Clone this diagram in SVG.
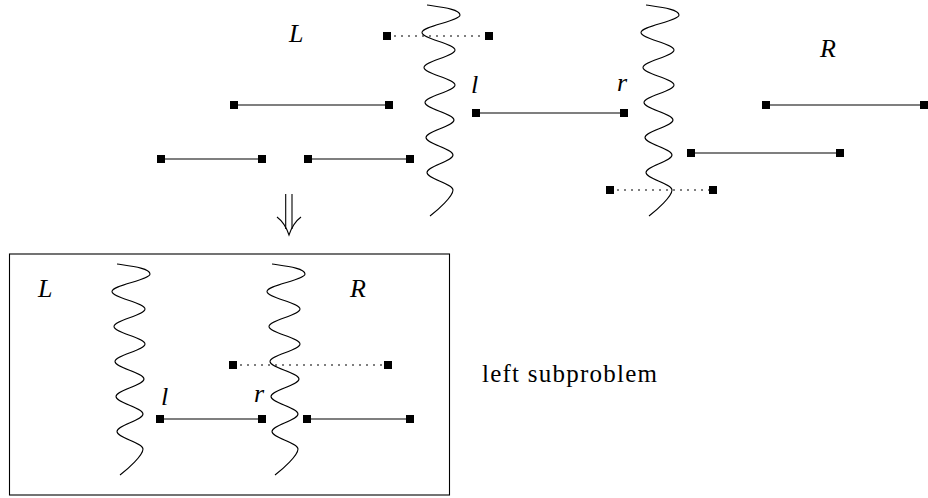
<svg xmlns="http://www.w3.org/2000/svg" xmlns:xlink="http://www.w3.org/1999/xlink" width="928" height="498" viewBox="0 0 928 498">
<style>
.seg{stroke:#000;stroke-width:1.1;fill:none}
.dot{stroke:#000;stroke-width:1.2;fill:none;stroke-dasharray:2 5}
.wave{stroke:#000;stroke-width:1.1;fill:none}
.lbl{font-family:"Liberation Serif",serif;font-style:italic;font-size:26px;fill:#000}
.txt{font-family:"Liberation Serif",serif;font-size:25px;fill:#000}
</style>
<defs>
<rect id="sq" x="-4" y="-4" width="8" height="8" fill="#000"/>
<path id="wv" d="M427,5 C440,7 460,9 460,15 S422,26.1 422,32.5 S455,43.6 455,50 S424,61.1 424,67.5 S455,78.6 455,85 S425,96.1 425,102.5 S454,113.6 454,120 S426,131.1 426,137.5 S453,148.6 453,155 S427,166.1 427,172.5 S453,183.6 453,190 S438,210 430,216"/>
</defs>
<rect x="9.5" y="254" width="440" height="241" fill="none" stroke="#000" stroke-width="1.1"/>
<g id="waves">
<use xlink:href="#wv" class="wave"/>
<use xlink:href="#wv" class="wave" transform="translate(219,0)"/>
<use xlink:href="#wv" class="wave" transform="translate(-310,259)"/>
<use xlink:href="#wv" class="wave" transform="translate(-155,259)"/>
</g>
<g id="connectors">
<line class="dot" x1="387" y1="36" x2="489" y2="36"/>
<line class="seg" x1="234" y1="105" x2="389" y2="105"/>
<line class="seg" x1="161" y1="159" x2="262" y2="159"/>
<line class="seg" x1="308" y1="159" x2="410" y2="159"/>
<line class="seg" x1="476" y1="113" x2="624" y2="113"/>
<line class="seg" x1="691" y1="153" x2="840" y2="153"/>
<line class="seg" x1="766" y1="105" x2="924" y2="105"/>
<line class="dot" x1="610" y1="190" x2="713" y2="190"/>
<line class="dot" x1="233" y1="365" x2="388" y2="365"/>
<line class="seg" x1="160" y1="419" x2="262" y2="419"/>
<line class="seg" x1="307" y1="419" x2="410" y2="419"/>
<g id="implies" class="seg">
<line x1="285.7" y1="194" x2="285.7" y2="229"/>
<line x1="292" y1="194" x2="292" y2="229"/>
<path d="M277,217 Q285,223 289,235 Q293,223 301,217"/>
</g>
</g>
<g id="n1"><use xlink:href="#sq" x="387" y="36"/><use xlink:href="#sq" x="489" y="36"/></g>
<g id="n2"><use xlink:href="#sq" x="234" y="105"/><use xlink:href="#sq" x="389" y="105"/></g>
<g id="n3"><use xlink:href="#sq" x="161" y="159"/><use xlink:href="#sq" x="262" y="159"/></g>
<g id="n4"><use xlink:href="#sq" x="308" y="159"/><use xlink:href="#sq" x="410" y="159"/></g>
<g id="n5"><use xlink:href="#sq" x="476" y="113"/><use xlink:href="#sq" x="624" y="113"/></g>
<g id="n6"><use xlink:href="#sq" x="691" y="153"/><use xlink:href="#sq" x="840" y="153"/></g>
<g id="n7"><use xlink:href="#sq" x="766" y="105"/><use xlink:href="#sq" x="924" y="105"/></g>
<g id="n8"><use xlink:href="#sq" x="610" y="190"/><use xlink:href="#sq" x="713" y="190"/></g>
<g id="n9"><use xlink:href="#sq" x="233" y="365"/><use xlink:href="#sq" x="388" y="365"/></g>
<g id="n10"><use xlink:href="#sq" x="160" y="419"/><use xlink:href="#sq" x="262" y="419"/></g>
<g id="n11"><use xlink:href="#sq" x="307" y="419"/><use xlink:href="#sq" x="410" y="419"/></g>
<g id="labels">
<text class="lbl" x="289" y="42">L</text>
<text class="lbl" x="820" y="57">R</text>
<text class="lbl" x="471" y="93">l</text>
<text class="lbl" x="617" y="91">r</text>
<text class="lbl" x="38" y="297">L</text>
<text class="lbl" x="350" y="297">R</text>
<text class="lbl" x="161" y="405">l</text>
<text class="lbl" x="254" y="402">r</text>
<text class="txt" x="482" y="382" textLength="175" lengthAdjust="spacing">left subproblem</text>
</g>
</svg>
